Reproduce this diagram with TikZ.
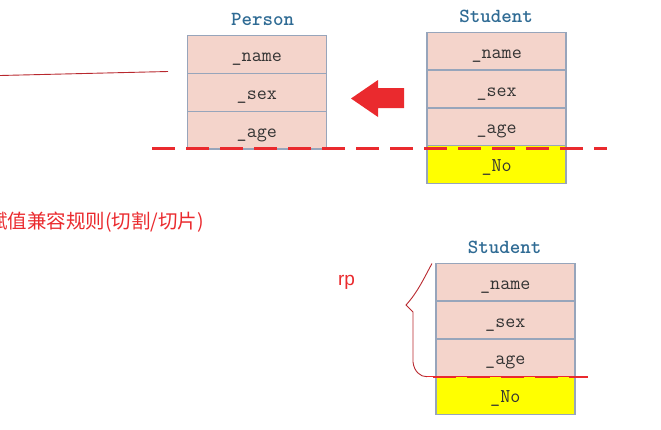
\documentclass[tikz,border=0pt]{standalone}
\usepackage{fontspec}
\setsansfont{Liberation Sans}
\newfontfamily\cjk{Noto Sans CJK SC}
\usetikzlibrary{positioning}
\definecolor{cellpink}{HTML}{F4D4CB}
\definecolor{cellline}{HTML}{97A5BB}
\definecolor{titleblue}{HTML}{2F6B94}
\definecolor{cutred}{HTML}{EA2A2E}
\definecolor{inkred}{HTML}{B8282E}
\definecolor{noteyellow}{HTML}{FFFF00}
\tikzset{
  field/.style={draw=cellline, line width=1.5pt, fill=cellpink, minimum width=139pt,
    minimum height=37.8pt, inner sep=0pt, outer sep=0pt, text=black!80,
    text height=14pt, text depth=0pt,
    font=\ttfamily\fontsize{19.5}{19.5}\selectfont},
  extra/.style={field, fill=noteyellow},
  classname/.style={anchor=base, inner sep=0pt, text=titleblue,
    font=\ttfamily\bfseries\fontsize{20}{20}\selectfont},
  cutline/.style={draw=cutred, line width=2.2pt, dash pattern=on 23pt off 11pt},
  inkline/.style={draw=inkred, line width=0.9pt},
}
\begin{document}
\begin{tikzpicture}[x=1pt, y=-1pt]
        \useasboundingbox (0,0) rectangle (661,429);
        \draw[inkline] (0,75.5) -- (168,71.5);
        
        \node[classname] (person) at (262.5,25) {Person};
        \node[field] (pname) at (256.8,54.6) {\_name};
        \node[field, below=0pt of pname] (psex) {\_sex};
        \node[field, below=0pt of psex] (page) {\_age};
        
        \node[classname] (student) at (496,22.7) {Student};
        \node[field] (sname) at (496.7,51.2) {\_name};
        \node[field, below=0pt of sname] (ssex) {\_sex};
        \node[field, below=0pt of ssex] (sage) {\_age};
        \node[extra, below=0pt of sage] (sno) {\_No};
        
        \fill[cutred] (404,88) -- (378,88) -- (378,80) -- (351,98.5) -- (378,117) -- (378,108) -- (404,108) -- cycle;
        \coordinate (cutL) at (152,148.5);
        \coordinate (cutR) at (607,148.5);
        \draw[cutline] (cutL) -- (cutR);
        
        \node[anchor=west, inner sep=0pt, text=cutred, font=\cjk\fontsize{19.5}{19.5}\selectfont] (rule) at (-12,222) {赋值兼容规则(切割/切片)};
        
        \node[classname] (student2) at (504.5,253.3) {Student};
        \node[field] (bname) at (505.3,282.2) {\_name};
        \node[field, below=0pt of bname] (bsex) {\_sex};
        \node[field, below=0pt of bsex] (bage) {\_age};
        \node[extra, below=0pt of bage] (bno) {\_No};
        
        \coordinate (sliceL) at (427,376.7);
        \coordinate (sliceR) at (588,376.7);
        \draw[draw=cutred, line width=1.2pt] (sliceL) -- (sliceR);
        \draw[cutline, line width=2pt] (433,376.7) -- (sliceR);
        \draw[inkline] (432,263.5) .. controls (425,276) and (418,292) .. (406,305) -- (413,312) -- (413,362) .. controls (414,371) and (420,377) .. (sliceL);
        \node[anchor=base, inner sep=0pt, text=cutred, font=\sffamily\fontsize{19}{19}\selectfont] (rp) at (346.5,285) {rp};
        \end{tikzpicture}
\end{document}
